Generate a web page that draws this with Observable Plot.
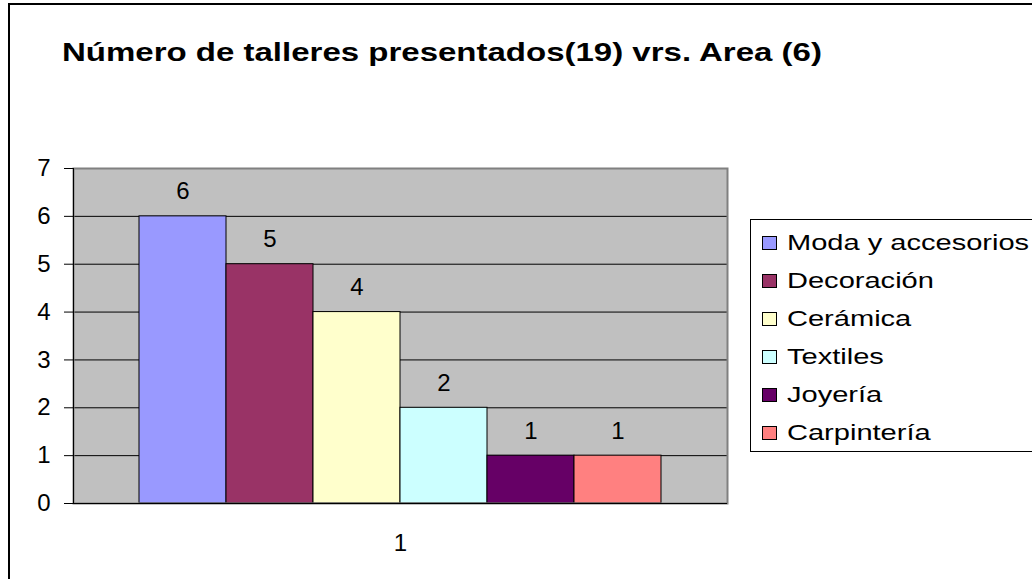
<!DOCTYPE html>
<html>
<head>
<meta charset="utf-8">
<script src="https://cdn.jsdelivr.net/npm/d3@7"></script>
<script src="https://cdn.jsdelivr.net/npm/@observablehq/plot@0.6"></script>
<style>
  body { margin: 0; background: #fff; }
  #wrap { position: relative; width: 1032px; height: 579px; overflow: hidden; font-family: Arial, "Liberation Sans", sans-serif; background: #fff; }
  #border { position: absolute; left: 8px; top: 3px; width: 1200px; height: 800px; border: 2px solid #000; box-sizing: border-box; }
  #title { position: absolute; left: 62px; top: 40px; font-weight: bold; font-size: 25px; line-height: 25px; transform: scaleX(1.32); transform-origin: left top; white-space: nowrap; color: #000; }
  #chart { position: absolute; left: 0; top: 0; }
  #legend { position: absolute; left: 750px; top: 219px; width: 400px; height: 233px; border: 1px solid #000; background: #fff; box-sizing: border-box; }
  .row { position: absolute; left: 762px; height: 38px; display: flex; align-items: center; white-space: nowrap; }
  .sw { width: 15px; height: 14px; border: 1px solid #000; box-sizing: border-box; flex: none; }
  .lbl { font-size: 22px; line-height: 22px; margin-left: 10px; transform: scaleX(1.32); transform-origin: left center; color: #000; }
</style>
</head>
<body>
<div id="wrap">
  <div id="border"></div>
  <div id="chart"></div>
  <div id="title"></div>
  <div id="legend"></div>
</div>
<script>
const titleText = "Número de talleres presentados(19) vrs. Area (6)";
const categories = ["Moda y accesorios", "Decoración", "Cerámica", "Textiles", "Joyería", "Carpintería"];
const values = [6, 5, 4, 2, 1, 1];
const colors = ["#9999FF", "#993366", "#FFFFCC", "#CCFFFF", "#660066", "#FF8080"];
const yTicks = [0, 1, 2, 3, 4, 5, 6, 7];
const xLabels = ["1"];

const data = categories.map((c, i) => ({area: c, value: values[i]}));

document.getElementById("title").textContent = titleText;

const plot = Plot.plot({
  width: 1032,
  height: 579,
  marginLeft: 73,
  marginRight: 305,
  marginTop: 168,
  marginBottom: 76,
  style: {background: "transparent", fontFamily: "Arial, 'Liberation Sans', sans-serif", color: "#000", overflow: "visible"},
  x: {type: "band", domain: categories, paddingInner: 0, paddingOuter: 0.745, axis: null},
  y: {domain: [0, 7], axis: null},
  color: {domain: categories, range: colors},
  marks: [
    Plot.frame({fill: "#c0c0c0"}),
    Plot.ruleY(yTicks.filter(t => t > 0 && t < 7), {stroke: "#000", strokeWidth: 1}),
    Plot.barY(data, {x: "area", y: "value", fill: "area", stroke: "#000", strokeWidth: 1}),
    Plot.frame({stroke: "#808080", strokeWidth: 2}),
    Plot.frame({anchor: "left", stroke: "#000", strokeWidth: 1}),
    Plot.ruleY([0], {stroke: "#000", strokeWidth: 1}),
    Plot.axisY({ticks: yTicks, label: null, tickSize: 9, tickPadding: 14, fontSize: 24, stroke: "#000", fill: "#000", tickFormat: d => String(d)}),
    Plot.text(data, {x: "area", y: "value", text: d => String(d.value), lineAnchor: "bottom", dy: -17, fontSize: 24, fill: "#000"}),
    Plot.text(xLabels, {frameAnchor: "bottom", text: d => d, lineAnchor: "bottom", dy: 47, fontSize: 24, fill: "#000"})
  ]
});
document.getElementById("chart").appendChild(plot);

const wrap = document.getElementById("wrap");
categories.forEach((c, i) => {
  const row = document.createElement("div");
  row.className = "row";
  row.style.top = (224 + 38 * i) + "px";
  const sw = document.createElement("div");
  sw.className = "sw";
  sw.style.background = colors[i];
  const lbl = document.createElement("span");
  lbl.className = "lbl";
  lbl.textContent = c;
  row.appendChild(sw);
  row.appendChild(lbl);
  wrap.appendChild(row);
});
</script>
</body>
</html>
